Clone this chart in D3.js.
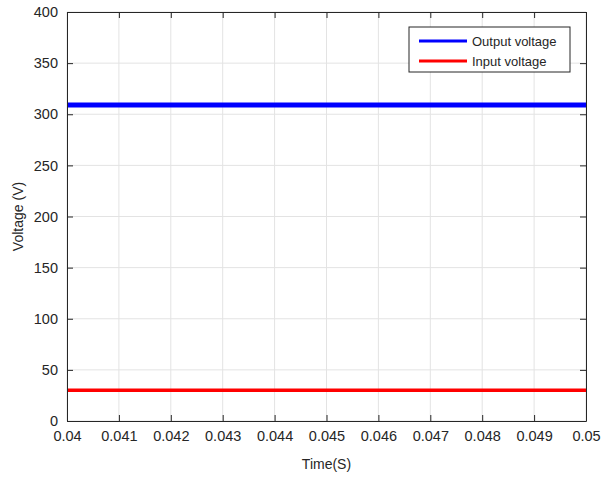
<!DOCTYPE html>
<html>
<head>
<meta charset="utf-8">
<script src="https://cdn.jsdelivr.net/npm/d3@7"></script>
<style>
  body { margin: 0; background: #fff; }
  text { font-family: "Liberation Sans", Arial, Helvetica, sans-serif; fill: #262626; }
</style>
</head>
<body>
<div id="chart"></div>
<script>
// data
var times = [0.04, 0.041, 0.042, 0.043, 0.044, 0.045, 0.046, 0.047, 0.048, 0.049, 0.05];
var outputVoltage = [309, 309, 309, 309, 309, 309, 309, 309, 309, 309, 309];
var inputVoltage = [30, 30, 30, 30, 30, 30, 30, 30, 30, 30, 30];
var xTicks = [0.04, 0.041, 0.042, 0.043, 0.044, 0.045, 0.046, 0.047, 0.048, 0.049, 0.05];
var yTicks = [0, 50, 100, 150, 200, 250, 300, 350, 400];
var seriesNames = ["Output voltage", "Input voltage"];

var W = 604, H = 479;
var margin = {top: 12, right: 18, bottom: 58, left: 67},
    width = W - margin.left - margin.right,
    height = H - margin.top - margin.bottom;

var svg = d3.select("#chart").append("svg")
    .attr("width", W).attr("height", H)
  .append("g")
    .attr("transform", "translate(" + margin.left + "," + margin.top + ")");

var x = d3.scaleLinear().domain([0.04, 0.05]).range([0, width]);
var y = d3.scaleLinear().domain([0, 400]).range([height, 0]);

// grid
svg.append("g").selectAll("line").data(xTicks).enter().append("line")
    .attr("x1", d => x(d)).attr("x2", d => x(d))
    .attr("y1", 0).attr("y2", height)
    .style("stroke", "#e3e3e3").style("stroke-width", 1);
svg.append("g").selectAll("line").data(yTicks).enter().append("line")
    .attr("y1", d => y(d)).attr("y2", d => y(d))
    .attr("x1", 0).attr("x2", width)
    .style("stroke", "#e3e3e3").style("stroke-width", 1);

// series
var series = [
  {name: seriesNames[0], values: outputVoltage, color: "#0000ff", w: 5},
  {name: seriesNames[1], values: inputVoltage, color: "#ff0000", w: 3.5}
];
var line = d3.line().x((d, i) => x(times[i])).y(d => y(d));
series.forEach(function(s) {
  svg.append("path")
    .datum(s.values)
    .attr("d", line)
    .style("fill", "none")
    .style("stroke", s.color)
    .style("stroke-width", s.w);
});

// axes (ticks inside, MATLAB style)
svg.append("g")
    .attr("transform", "translate(0," + height + ")")
    .call(d3.axisBottom(x).tickValues(xTicks).tickSizeInner(-6).tickSizeOuter(0)
      .tickPadding(10).tickFormat(d => d3.format("")(+d.toFixed(3))));
svg.append("g")
    .call(d3.axisLeft(y).tickValues(yTicks).tickSizeInner(-6).tickSizeOuter(0).tickPadding(9));
svg.append("g")
    .call(d3.axisTop(x).tickValues(xTicks).tickSizeInner(-6).tickSizeOuter(0).tickFormat(""));
svg.append("g")
    .attr("transform", "translate(" + width + ",0)")
    .call(d3.axisRight(y).tickValues(yTicks).tickSizeInner(-6).tickSizeOuter(0).tickFormat(""));

svg.selectAll(".domain").style("stroke", "#262626");
svg.selectAll(".tick line").style("stroke", "#262626");
svg.selectAll(".tick text").style("font-size", "14.5px").style("fill", "#262626");

// axis labels
svg.append("text")
    .attr("x", width / 2).attr("y", height + 48)
    .attr("text-anchor", "middle")
    .style("font-size", "14px")
    .text("Time(S)");
svg.append("text")
    .attr("transform", "rotate(-90)")
    .attr("x", -height / 2).attr("y", -44)
    .attr("text-anchor", "middle")
    .style("font-size", "14px")
    .text("Voltage (V)");

// legend
var lg = svg.append("g").attr("transform", "translate(" + (409 - margin.left) + "," + (27 - margin.top) + ")");
lg.append("rect")
    .attr("width", 161).attr("height", 45)
    .style("fill", "#fff").style("stroke", "#262626").style("stroke-width", 1);
series.forEach(function(s, i) {
  var yy = 14 + i * 20;
  lg.append("line")
    .attr("x1", 10).attr("x2", 58).attr("y1", yy).attr("y2", yy)
    .style("stroke", s.color).style("stroke-width", 3);
  lg.append("text")
    .attr("x", 63).attr("y", yy + 4.5)
    .style("font-size", "13px")
    .text(s.name);
});
</script>
</body>
</html>
